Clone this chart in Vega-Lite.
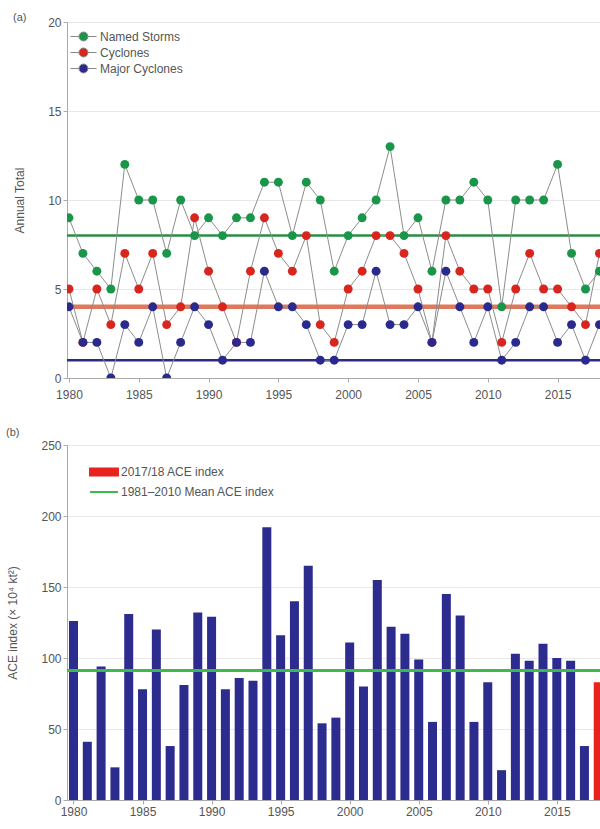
{
  "$schema": "https://vega.github.io/schema/vega-lite/v6.json",
  "background": "white",
  "padding": {"left": 6, "top": 12, "right": 0, "bottom": 5},
  "spacing": 27,
  "config": {
    "font": "Liberation Sans",
    "view": {"stroke": null},
    "axis": {
      "labelColor": "#555", "titleColor": "#555", "labelFontSize": 12, "titleFontSize": 12,
      "titleFontWeight": "normal", "domainColor": "#aaa", "tickColor": "#aaa", "gridColor": "#e8e8e8", "tickSize": 4
    },
    "legend": {"labelColor": "#555", "labelFontSize": 12, "labelFont": "Liberation Sans"}
  },
  "datasets": {
    "storms": [
      {"year":1980,"series":"Named Storms","count":9},{"year":1981,"series":"Named Storms","count":7},{"year":1982,"series":"Named Storms","count":6},{"year":1983,"series":"Named Storms","count":5},{"year":1984,"series":"Named Storms","count":12},{"year":1985,"series":"Named Storms","count":10},{"year":1986,"series":"Named Storms","count":10},{"year":1987,"series":"Named Storms","count":7},{"year":1988,"series":"Named Storms","count":10},{"year":1989,"series":"Named Storms","count":8},{"year":1990,"series":"Named Storms","count":9},{"year":1991,"series":"Named Storms","count":8},{"year":1992,"series":"Named Storms","count":9},{"year":1993,"series":"Named Storms","count":9},{"year":1994,"series":"Named Storms","count":11},{"year":1995,"series":"Named Storms","count":11},{"year":1996,"series":"Named Storms","count":8},{"year":1997,"series":"Named Storms","count":11},{"year":1998,"series":"Named Storms","count":10},{"year":1999,"series":"Named Storms","count":6},{"year":2000,"series":"Named Storms","count":8},{"year":2001,"series":"Named Storms","count":9},{"year":2002,"series":"Named Storms","count":10},{"year":2003,"series":"Named Storms","count":13},{"year":2004,"series":"Named Storms","count":8},{"year":2005,"series":"Named Storms","count":9},{"year":2006,"series":"Named Storms","count":6},{"year":2007,"series":"Named Storms","count":10},{"year":2008,"series":"Named Storms","count":10},{"year":2009,"series":"Named Storms","count":11},{"year":2010,"series":"Named Storms","count":10},{"year":2011,"series":"Named Storms","count":4},{"year":2012,"series":"Named Storms","count":10},{"year":2013,"series":"Named Storms","count":10},{"year":2014,"series":"Named Storms","count":10},{"year":2015,"series":"Named Storms","count":12},{"year":2016,"series":"Named Storms","count":7},{"year":2017,"series":"Named Storms","count":5},{"year":2018,"series":"Named Storms","count":6},
      {"year":1980,"series":"Cyclones","count":5},{"year":1981,"series":"Cyclones","count":2},{"year":1982,"series":"Cyclones","count":5},{"year":1983,"series":"Cyclones","count":3},{"year":1984,"series":"Cyclones","count":7},{"year":1985,"series":"Cyclones","count":5},{"year":1986,"series":"Cyclones","count":7},{"year":1987,"series":"Cyclones","count":3},{"year":1988,"series":"Cyclones","count":4},{"year":1989,"series":"Cyclones","count":9},{"year":1990,"series":"Cyclones","count":6},{"year":1991,"series":"Cyclones","count":4},{"year":1992,"series":"Cyclones","count":2},{"year":1993,"series":"Cyclones","count":6},{"year":1994,"series":"Cyclones","count":9},{"year":1995,"series":"Cyclones","count":7},{"year":1996,"series":"Cyclones","count":6},{"year":1997,"series":"Cyclones","count":8},{"year":1998,"series":"Cyclones","count":3},{"year":1999,"series":"Cyclones","count":2},{"year":2000,"series":"Cyclones","count":5},{"year":2001,"series":"Cyclones","count":6},{"year":2002,"series":"Cyclones","count":8},{"year":2003,"series":"Cyclones","count":8},{"year":2004,"series":"Cyclones","count":7},{"year":2005,"series":"Cyclones","count":5},{"year":2006,"series":"Cyclones","count":2},{"year":2007,"series":"Cyclones","count":8},{"year":2008,"series":"Cyclones","count":6},{"year":2009,"series":"Cyclones","count":5},{"year":2010,"series":"Cyclones","count":5},{"year":2011,"series":"Cyclones","count":2},{"year":2012,"series":"Cyclones","count":5},{"year":2013,"series":"Cyclones","count":7},{"year":2014,"series":"Cyclones","count":5},{"year":2015,"series":"Cyclones","count":5},{"year":2016,"series":"Cyclones","count":4},{"year":2017,"series":"Cyclones","count":3},{"year":2018,"series":"Cyclones","count":7},
      {"year":1980,"series":"Major Cyclones","count":4},{"year":1981,"series":"Major Cyclones","count":2},{"year":1982,"series":"Major Cyclones","count":2},{"year":1983,"series":"Major Cyclones","count":0},{"year":1984,"series":"Major Cyclones","count":3},{"year":1985,"series":"Major Cyclones","count":2},{"year":1986,"series":"Major Cyclones","count":4},{"year":1987,"series":"Major Cyclones","count":0},{"year":1988,"series":"Major Cyclones","count":2},{"year":1989,"series":"Major Cyclones","count":4},{"year":1990,"series":"Major Cyclones","count":3},{"year":1991,"series":"Major Cyclones","count":1},{"year":1992,"series":"Major Cyclones","count":2},{"year":1993,"series":"Major Cyclones","count":2},{"year":1994,"series":"Major Cyclones","count":6},{"year":1995,"series":"Major Cyclones","count":4},{"year":1996,"series":"Major Cyclones","count":4},{"year":1997,"series":"Major Cyclones","count":3},{"year":1998,"series":"Major Cyclones","count":1},{"year":1999,"series":"Major Cyclones","count":1},{"year":2000,"series":"Major Cyclones","count":3},{"year":2001,"series":"Major Cyclones","count":3},{"year":2002,"series":"Major Cyclones","count":6},{"year":2003,"series":"Major Cyclones","count":3},{"year":2004,"series":"Major Cyclones","count":3},{"year":2005,"series":"Major Cyclones","count":4},{"year":2006,"series":"Major Cyclones","count":2},{"year":2007,"series":"Major Cyclones","count":6},{"year":2008,"series":"Major Cyclones","count":4},{"year":2009,"series":"Major Cyclones","count":2},{"year":2010,"series":"Major Cyclones","count":4},{"year":2011,"series":"Major Cyclones","count":1},{"year":2012,"series":"Major Cyclones","count":2},{"year":2013,"series":"Major Cyclones","count":4},{"year":2014,"series":"Major Cyclones","count":4},{"year":2015,"series":"Major Cyclones","count":2},{"year":2016,"series":"Major Cyclones","count":3},{"year":2017,"series":"Major Cyclones","count":1},{"year":2018,"series":"Major Cyclones","count":3}
    ],
    "ace": [
      {"year":1980,"ace":126},{"year":1981,"ace":41},{"year":1982,"ace":94},{"year":1983,"ace":23},{"year":1984,"ace":131},{"year":1985,"ace":78},{"year":1986,"ace":120},{"year":1987,"ace":38},{"year":1988,"ace":81},{"year":1989,"ace":132},{"year":1990,"ace":129},{"year":1991,"ace":78},{"year":1992,"ace":86},{"year":1993,"ace":84},{"year":1994,"ace":192},{"year":1995,"ace":116},{"year":1996,"ace":140},{"year":1997,"ace":165},{"year":1998,"ace":54},{"year":1999,"ace":58},{"year":2000,"ace":111},{"year":2001,"ace":80},{"year":2002,"ace":155},{"year":2003,"ace":122},{"year":2004,"ace":117},{"year":2005,"ace":99},{"year":2006,"ace":55},{"year":2007,"ace":145},{"year":2008,"ace":130},{"year":2009,"ace":55},{"year":2010,"ace":83},{"year":2011,"ace":21},{"year":2012,"ace":103},{"year":2013,"ace":98},{"year":2014,"ace":110},{"year":2015,"ace":100},{"year":2016,"ace":98},{"year":2017,"ace":38},{"year":2018,"ace":83}
    ]
  },
  "resolve": {"scale": {"color": "independent"}, "legend": {"color": "independent"}},
  "vconcat": [
    {
      "width": 534,
      "height": 356,
      "title": {"text": "(a)", "anchor": "start", "frame": "bounds", "fontSize": 11, "fontWeight": "normal", "color": "#555", "offset": -7},
      "layer": [
        {"data": {"values": [{}]}, "mark": {"type": "rule", "color": "#2a8c45", "strokeWidth": 2.5}, "encoding": {"y": {"datum": 8, "type": "quantitative"}}},
        {"data": {"values": [{}]}, "mark": {"type": "rule", "color": "#da6a4c", "strokeWidth": 4.5, "opacity": 0.9}, "encoding": {"y": {"datum": 4, "type": "quantitative"}}},
        {"data": {"values": [{}]}, "mark": {"type": "rule", "color": "#2d2a86", "strokeWidth": 2.5}, "encoding": {"y": {"datum": 1, "type": "quantitative"}}},
        {
          "data": {"name": "storms"},
          "mark": {"type": "line", "color": "#8c8c8c", "strokeWidth": 1, "clip": true},
          "encoding": {
            "x": {"field": "year", "type": "quantitative"},
            "y": {"field": "count", "type": "quantitative"},
            "detail": {"field": "series"}
          }
        },
        {
          "data": {"name": "storms"},
          "mark": {"type": "circle", "size": 80, "opacity": 1, "clip": true},
          "encoding": {
            "x": {"field": "year", "type": "quantitative",
              "scale": {"domain": [1979.86, 2018.11], "nice": false, "zero": false},
              "axis": {"title": null, "values": [1980,1985,1990,1995,2000,2005,2010,2015], "format": "d", "grid": false, "labelFlush": false, "labelPadding": 7}},
            "y": {"field": "count", "type": "quantitative",
              "scale": {"domain": [0, 20], "nice": false},
              "axis": {"title": "Annual Total", "values": [0,5,10,15,20], "grid": true, "minExtent": 20, "maxExtent": 20, "titlePadding": 21}},
            "color": {"field": "series", "type": "nominal",
              "scale": {"domain": ["Named Storms", "Cyclones", "Major Cyclones"], "range": ["#19964a", "#d8261f", "#2a2a8e"]},
              "legend": {"title": null, "orient": "none", "legendX": 9, "legendY": 7, "symbolSize": 196, "rowPadding": 2, "labelOffset": 9,
                "symbolType": "M-1.86,0H-0.64M0.64,0H1.86M0.64,0A0.64,0.64 0 1 1 -0.64,0A0.64,0.64 0 1 1 0.64,0Z",
                "symbolStrokeColor": "#888", "symbolStrokeWidth": 1, "symbolOpacity": 1}}
          }
        }
      ]
    },
    {
      "width": 534,
      "height": 355,
      "title": {"text": "(b)", "anchor": "start", "frame": "bounds", "fontSize": 11, "fontWeight": "normal", "color": "#555", "offset": 1},
      "data": {"name": "ace"},
      "layer": [
        {
          "transform": [{"filter": "datum.year < 2018"}],
          "mark": {"type": "bar", "color": "#2c2b8e", "size": 9, "clip": true},
          "encoding": {
            "x": {"field": "year", "type": "quantitative",
              "scale": {"domain": [1979.53, 2018.2], "nice": false, "zero": false, "padding": 0},
              "axis": {"title": null, "values": [1980,1985,1990,1995,2000,2005,2010,2015], "format": "d", "grid": false, "labelFlush": false}},
            "y": {"field": "ace", "type": "quantitative",
              "scale": {"domain": [0, 250], "nice": false},
              "axis": {"title": "ACE index (× 10⁴ kt²)", "values": [0,50,100,150,200,250], "grid": true, "minExtent": 32, "maxExtent": 32, "titlePadding": 16}}
          }
        },
        {
          "transform": [{"filter": "datum.year == 2018"}],
          "mark": {"type": "bar", "size": 9, "clip": true},
          "encoding": {
            "x": {"field": "year", "type": "quantitative"},
            "y": {"field": "ace", "type": "quantitative"},
            "color": {"datum": "2017/18 ACE index", "type": "nominal",
              "scale": {"domain": ["2017/18 ACE index", "1981–2010 Mean ACE index"], "range": ["#e8231e", "#3dba4e"]},
              "legend": {"title": null, "orient": "none", "legendX": 27, "legendY": 17, "symbolSize": 324, "rowPadding": 2, "labelOffset": 7,
                "encode": {"symbols": {"update": {
                  "shape": {"signal": "datum.label === '2017/18 ACE index' ? 'M-1.55,-0.39H1.55V0.39H-1.55Z' : 'M-1.55,0H1.55'"},
                  "fill": {"signal": "datum.label === '2017/18 ACE index' ? '#e8231e' : 'transparent'"},
                  "stroke": {"signal": "datum.label === '2017/18 ACE index' ? 'transparent' : '#3dba4e'"},
                  "strokeWidth": {"value": 2},
                  "opacity": {"value": 1}
                }}}}
            }
          }
        },
        {
          "mark": {"type": "rule", "strokeWidth": 2},
          "encoding": {
            "y": {"datum": 91, "type": "quantitative"},
            "color": {"datum": "1981–2010 Mean ACE index", "type": "nominal"}
          }
        }
      ]
    }
  ]
}
